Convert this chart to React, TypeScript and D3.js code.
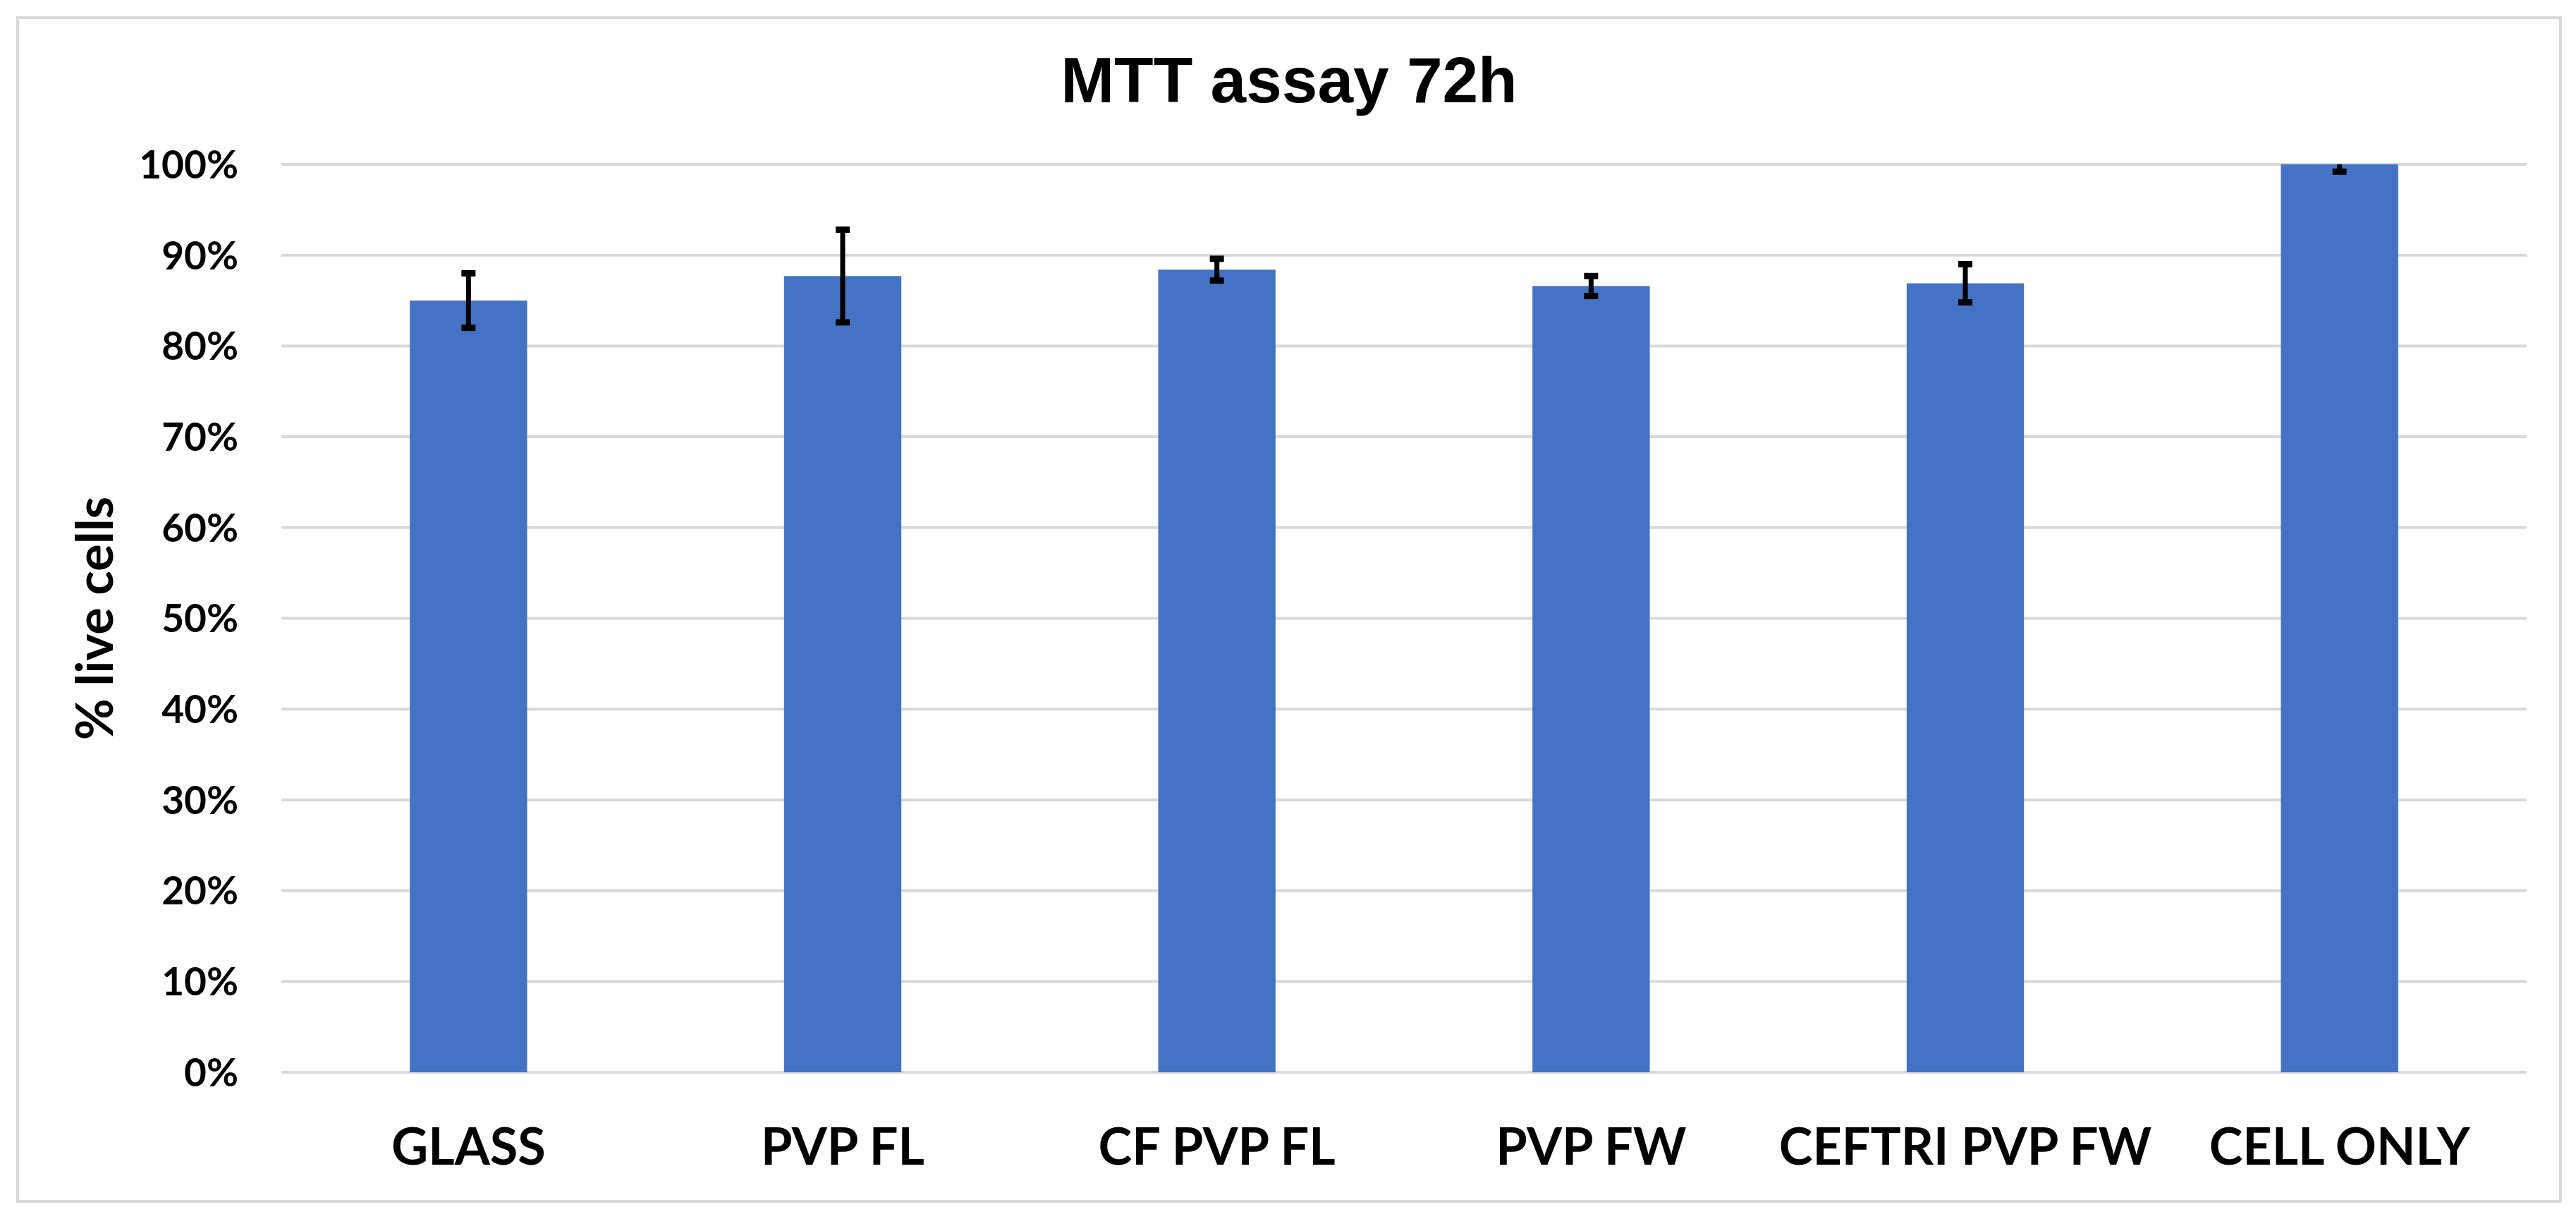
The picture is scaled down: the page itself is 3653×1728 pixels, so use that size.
import React, { useEffect } from "react";
import * as d3 from "d3";

const categories = ["GLASS", "PVP FL", "CF PVP FL", "PVP FW", "CEFTRI PVP FW", "CELL ONLY"];
const values = [0.85, 0.877, 0.884, 0.866, 0.869, 1.0];
const errors = [0.03, 0.051, 0.012, 0.011, 0.021, 0.008];
const yTicks = [0, 0.1, 0.2, 0.3, 0.4, 0.5, 0.6, 0.7, 0.8, 0.9, 1.0];
const title = "MTT assay 72h";
const yTitle = "% live cells";

const W = 3653;
const H = 1728;
const plot = { left: 399, right: 3583, top: 233, bottom: 1520 };
const labelFont = "Lato, 'Open Sans', sans-serif";

export default function App() {
  useEffect(() => {
    document.body.style.margin = "0";
  }, []);

  const x = d3.scaleBand<string>().domain(categories).range([plot.left, plot.right]).paddingInner(0).paddingOuter(0);
  const y = d3.scaleLinear().domain([0, 1]).range([plot.bottom, plot.top]);
  const bw = x.bandwidth();
  const barW = bw / (1 + 2.19);
  const fmt = d3.format(".0%");
  const capW = 20;

  return (
    <svg width={W} height={H} style={{ display: "block", background: "#ffffff" }}>
      <rect x={0} y={0} width={W} height={H} fill="#ffffff" />
      <rect x={25} y={25} width={3606} height={1678} fill="none" stroke="#d9d9d9" strokeWidth={4} />
      <text x={1828} y={145} textAnchor="middle" fontFamily="'Liberation Sans', Arial, sans-serif" fontWeight="bold" fontSize={91} fill="#000">
        {title}
      </text>
      {yTicks.map((t) => (
        <g key={t}>
          <line x1={plot.left} x2={plot.right} y1={y(t)} y2={y(t)} stroke="#d9d9d9" strokeWidth={4} />
          <text x={338} y={y(t)} dy="0.36em" textAnchor="end" fontFamily={labelFont} fontWeight="bold" fontSize={55} fill="#000">
            {fmt(t)}
          </text>
        </g>
      ))}
      <text
        transform={`translate(160, ${(plot.top + plot.bottom) / 2}) rotate(-90)`}
        textAnchor="middle"
        fontFamily={labelFont}
        fontWeight="bold"
        fontSize={72}
        fill="#000"
      >
        {yTitle}
      </text>
      {categories.map((c, i) => {
        const cx = (x(c) as number) + bw / 2;
        const v = values[i];
        const e = errors[i];
        const yTop = y(v + e);
        const yBot = y(v - e);
        const topClipped = yTop < plot.top;
        const stemTop = Math.max(yTop, plot.top);
        return (
          <g key={c}>
            <rect x={cx - barW / 2} y={y(v)} width={barW} height={y(0) - y(v)} fill="#4472c4" />
            <line x1={cx} x2={cx} y1={stemTop} y2={yBot} stroke="#000" strokeWidth={7} />
            {!topClipped && <line x1={cx - capW / 2} x2={cx + capW / 2} y1={yTop} y2={yTop} stroke="#000" strokeWidth={9} />}
            <line x1={cx - capW / 2} x2={cx + capW / 2} y1={yBot} y2={yBot} stroke="#000" strokeWidth={9} />
            <text x={cx} y={1651} textAnchor="middle" fontFamily={labelFont} fontWeight="bold" fontSize={72} fill="#000">
              {c}
            </text>
          </g>
        );
      })}
    </svg>
  );
}
